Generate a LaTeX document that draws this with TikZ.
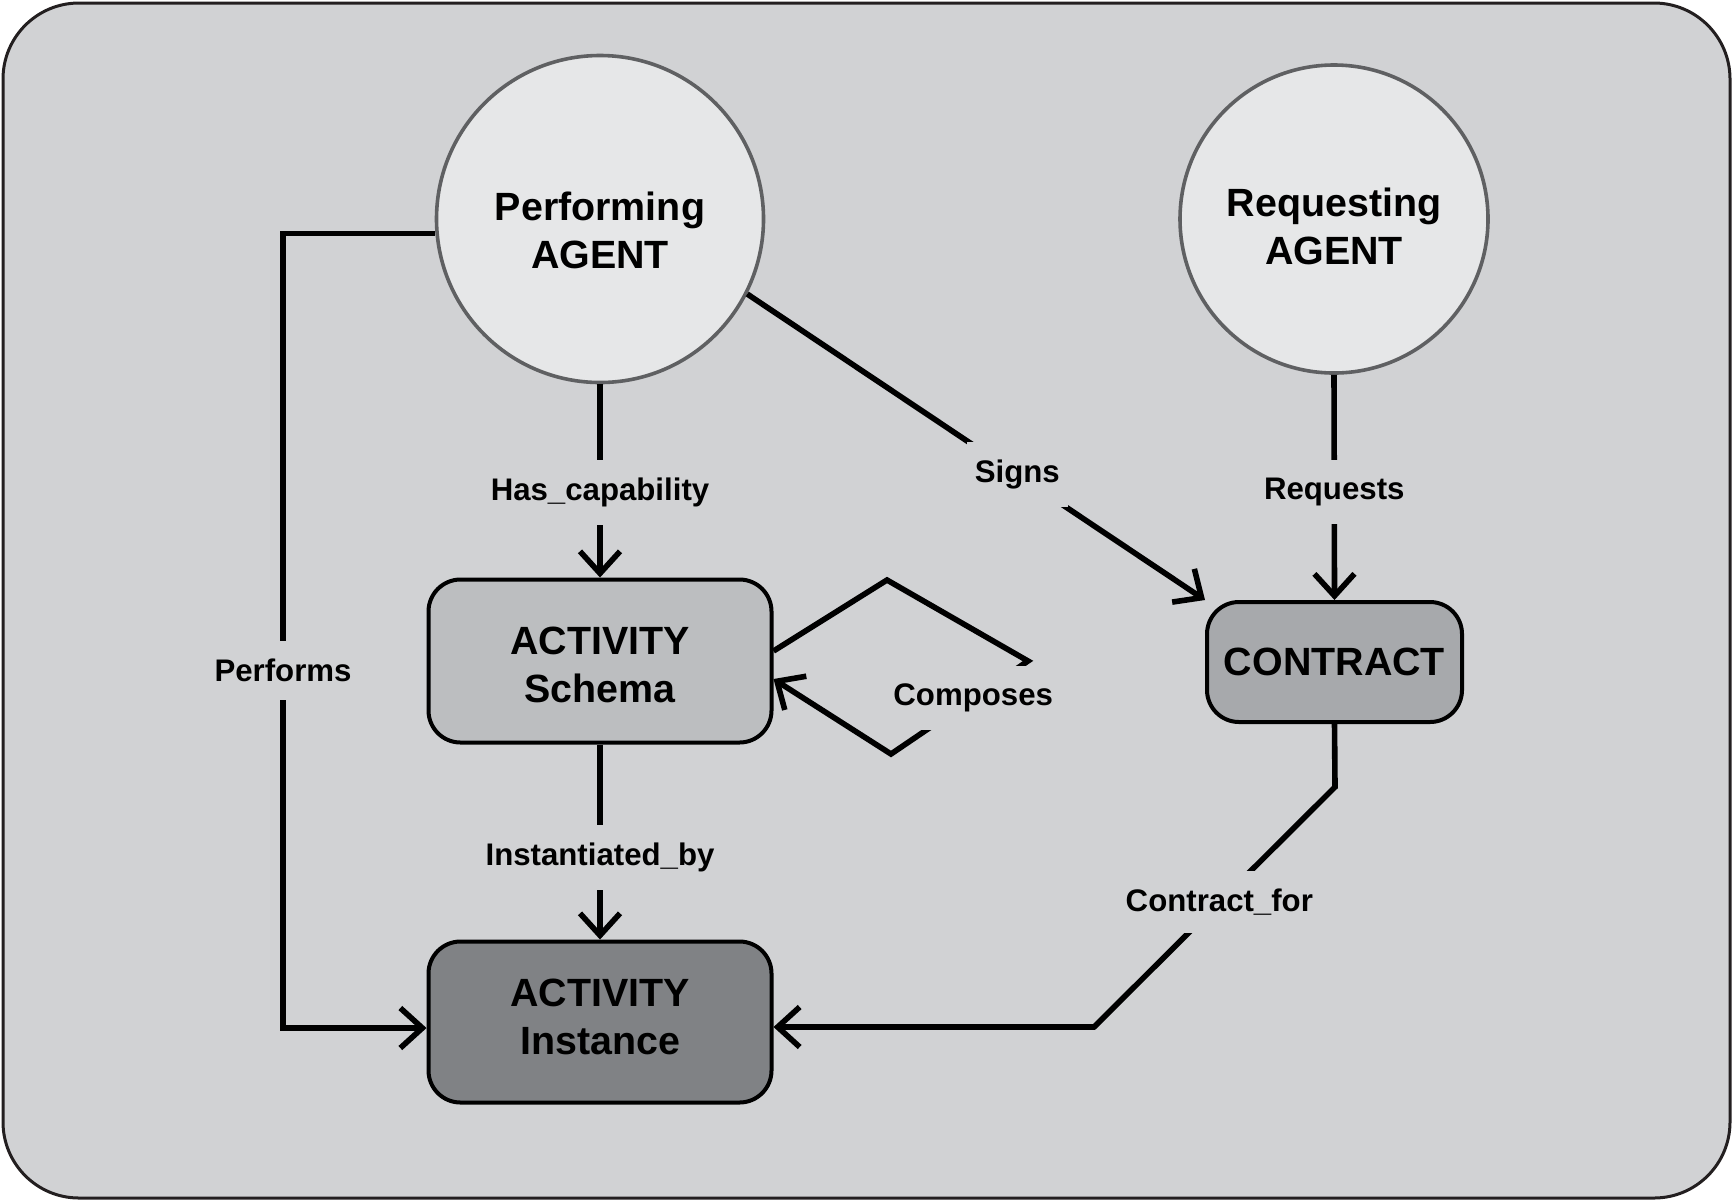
\documentclass[tikz,border=0pt]{standalone}
\usepackage{fontspec}
\setmainfont{Liberation Sans}
\usetikzlibrary{arrows.meta}
\definecolor{bgfill}{HTML}{D1D2D4}
\definecolor{framedraw}{HTML}{231F20}
\definecolor{agentfill}{HTML}{E6E7E8}
\definecolor{agentdraw}{HTML}{5F6062}
\definecolor{schemafill}{HTML}{BCBEC0}
\definecolor{contractfill}{HTML}{A7A9AC}
\definecolor{instfill}{HTML}{808285}
\begin{document}
\begin{tikzpicture}[
        x=0.5pt, y=-0.5pt,
        agent/.style={circle, draw=agentdraw, fill=agentfill, line width=1.8pt, align=center, text height=49pt, text depth=0pt, font=\fontsize{19.7}{23.8}\selectfont\bfseries},
        box/.style={rectangle, rounded corners=16pt, draw=black, line width=2pt, align=center, font=\fontsize{19.7}{23.8}\selectfont\bfseries},
        lbl/.style={fill=bgfill, inner xsep=4pt, inner ysep=9pt, font=\fontsize{15.6}{18}\selectfont\bfseries},
        conn/.style={line width=2.8pt, -{Straight Barb[length=11pt,width=20pt]}}
    ]
    \useasboundingbox (0,0) rectangle (1733,1201);
    \draw[fill=bgfill, draw=framedraw, line width=1.5pt, rounded corners=38pt] (3,3) rectangle (1730,1198);

    \node[agent, minimum size=163.5pt] (perf) at (600,219) {Performing\\AGENT};
    \node[agent, minimum size=154pt, text height=45.5pt] (req) at (1334,219) {Requesting\\AGENT};
    \node[box, fill=schemafill, minimum width=171.5pt, minimum height=81.5pt, text height=41.3pt, text depth=0pt] (schema) at (600,661) {ACTIVITY\\Schema};
    \node[box, fill=contractfill, minimum width=127.5pt, minimum height=60pt] (contr) at (1334.5,662) {CONTRACT};
    \node[box, fill=instfill, minimum width=171.5pt, minimum height=80.5pt, text height=32.4pt, text depth=0pt] (inst) at (600,1022) {ACTIVITY\\Instance};

    \coordinate (pfcorner) at (283,1028);
    \coordinate (cmpa) at (887,580);
    \coordinate (cmpb) at (1028,661);
    \coordinate (cmpc) at (891,754);
    \coordinate (cfa) at (1335,787);
    \coordinate (cfb) at (1094,1027);

    \draw[conn] (perf.south) -- node[lbl, pos=0.56] {Has\_capability} (schema.north);
    \draw[conn] (schema.south) -- node[lbl, pos=0.58] {Instantiated\_by} (inst.north);
    \draw[conn] (req.south) -- node[lbl, pos=0.52] {Requests} (contr.north);
    \draw[conn] (perf.-27) -- node[lbl, pos=0.59] {Signs} (contr.north west);
    \draw[conn] (perf.185) -- (perf.185 -| pfcorner) -- node[lbl, pos=0.55] {Performs} (pfcorner) -- (inst.west |- pfcorner);
    \draw[conn] ([yshift=5pt]schema.east) -- (cmpa) -- (cmpb) -- node[lbl, pos=0.4] {Composes} (cmpc) -- ([yshift=-9pt]schema.east);
    \draw[conn] (contr.south) -- (cfa) -- node[lbl, pos=0.48] {Contract\_for} (cfb) -- (inst.east |- cfb);
\end{tikzpicture}
\end{document}
